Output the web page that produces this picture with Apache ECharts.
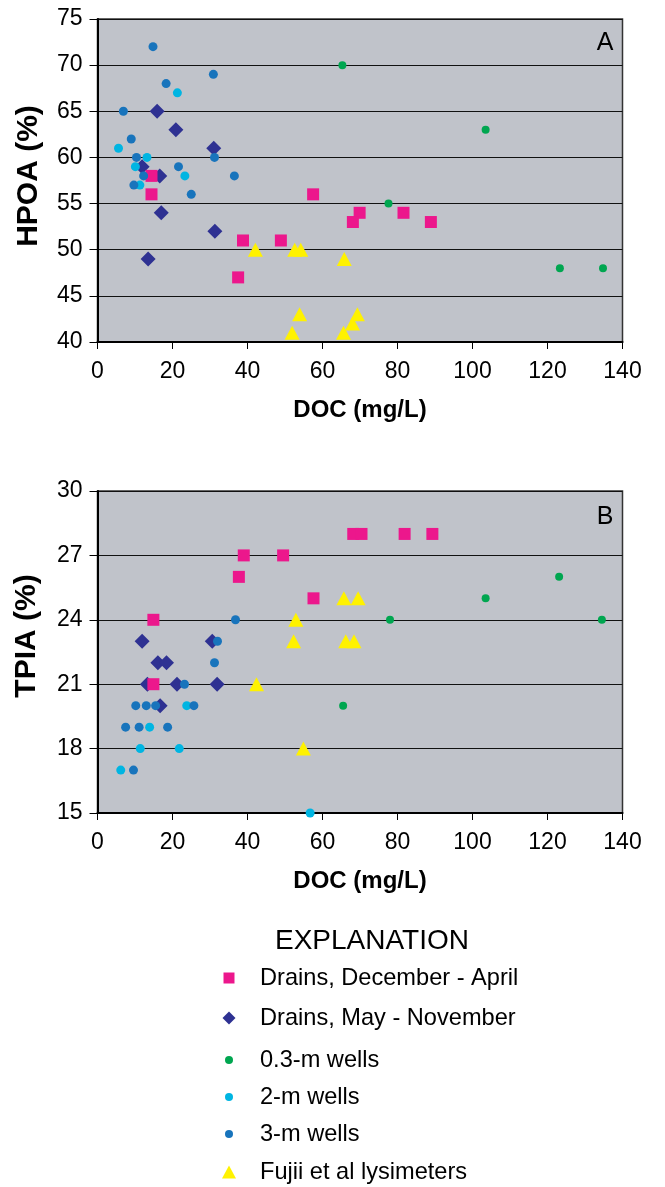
<!DOCTYPE html>
<html>
<head>
<meta charset="utf-8">
<script src="https://cdn.jsdelivr.net/npm/echarts@6/dist/echarts.min.js"></script>
<style>
html,body{margin:0;padding:0;background:#fff;}
#chart{width:665px;height:1187px;}
</style>
</head>
<body>
<div id="chart"></div>
<script>
// ---------- Data ----------
const xTicks = [0, 20, 40, 60, 80, 100, 120, 140];
const hpoaTicks = [40, 45, 50, 55, 60, 65, 70, 75];
const tpiaTicks = [15, 18, 21, 24, 27, 30];

const seriesNames = ['Drains, December - April', 'Drains, May - November', '0.3-m wells', '2-m wells', '3-m wells', 'Fujii et al lysimeters'];

// Panel A: DOC (mg/L) vs HPOA (%)
const decAprDocA  = [14.4, 14.4, 38.8, 48.9, 37.5, 57.5, 69.9, 68.1, 81.6, 88.9];
const decAprHpoa  = [58, 56, 51, 51, 47, 56, 54, 53, 54, 53];
const mayNovDocA  = [15.9, 20.9, 31.0, 11.9, 16.6, 17.0, 31.3, 13.5];
const mayNovHpoa  = [65, 63, 61, 59, 58, 54, 52, 49];
const w03DocA     = [65.3, 77.6, 103.5, 123.3, 134.8];
const w03Hpoa     = [70, 55, 63, 48, 48];
const w2DocA      = [21.3, 5.6, 13.2, 10.1, 23.3, 11.3];
const w2Hpoa      = [67, 61, 60, 59, 58, 57];
const w3DocA      = [14.8, 18.3, 30.9, 6.9, 9.0, 10.4, 31.2, 21.6, 12.3, 36.5, 9.7, 25.0];
const w3Hpoa      = [72, 68, 69, 65, 62, 60, 60, 59, 58, 58, 57, 56];
const fujiiDocA   = [42.1, 52.6, 54.2, 65.8, 53.9, 51.9, 69.3, 68.0, 65.6];
const fujiiHpoa   = [50, 50, 50, 49, 43, 41, 43, 42, 41];

// Panel B: DOC (mg/L) vs TPIA (%)
const decAprDocB  = [39.0, 49.5, 37.7, 14.9, 14.9, 68.2, 70.4, 81.9, 89.3, 57.6];
const decAprTpia  = [27, 27, 26, 24, 21, 28, 28, 28, 28, 25];
const mayNovDocB  = [11.9, 30.6, 16.1, 18.4, 13.3, 21.2, 31.9, 16.7];
const mayNovTpia  = [23, 23, 22, 22, 21, 21, 21, 20];
const w03DocB     = [78.0, 65.5, 103.5, 123.1, 134.5];
const w03Tpia     = [24, 20, 25, 26, 24];
const w2DocB      = [56.7, 6.2, 11.4, 21.8, 13.9, 23.8];
const w2Tpia      = [15, 17, 18, 18, 19, 20];
const w3DocB      = [9.6, 7.5, 11.1, 18.7, 10.2, 13.0, 15.5, 25.7, 23.2, 31.2, 32.0, 36.8];
const w3Tpia      = [17, 19, 19, 19, 20, 20, 20, 20, 21, 22, 23, 24];
const fujiiDocB   = [65.7, 69.5, 52.9, 52.3, 66.2, 68.4, 42.4, 54.9];
const fujiiTpia   = [25, 25, 24, 23, 23, 23, 21, 18];

// ---------- Styles ----------
const FONT = 'Liberation Sans, Arial, sans-serif';
const styles = {
  'Drains, December - April': {symbol: 'rect', size: 12, color: '#ec178c', z: 3, legendIcon: 'rect', lw: 11, lh: 11},
  'Drains, May - November':   {symbol: 'diamond', size: 15, color: '#2e3192', z: 2, legendIcon: 'diamond', lw: 13, lh: 13},
  '0.3-m wells':              {symbol: 'circle', size: 8, color: '#00a650', z: 4, legendIcon: 'circle', lw: 8, lh: 8},
  '2-m wells':                {symbol: 'circle', size: 9, color: '#00b5e2', z: 4, legendIcon: 'circle', lw: 8, lh: 8},
  '3-m wells':                {symbol: 'circle', size: 9, color: '#1874bc', z: 5, legendIcon: 'circle', lw: 8, lh: 8},
  'Fujii et al lysimeters':   {symbol: 'triangle', size: [15, 14], color: '#fff200', z: 6, legendIcon: 'triangle', lw: 14, lh: 13}
};

function pairs(xs, ys) { return xs.map((x, i) => [x, ys[i]]); }

const panelA = [
  [decAprDocA, decAprHpoa], [mayNovDocA, mayNovHpoa], [w03DocA, w03Hpoa],
  [w2DocA, w2Hpoa], [w3DocA, w3Hpoa], [fujiiDocA, fujiiHpoa]
];
const panelB = [
  [decAprDocB, decAprTpia], [mayNovDocB, mayNovTpia], [w03DocB, w03Tpia],
  [w2DocB, w2Tpia], [w3DocB, w3Tpia], [fujiiDocB, fujiiTpia]
];

const series = [];
[panelA, panelB].forEach((panel, gi) => {
  panel.forEach((d, si) => {
    const name = seriesNames[si];
    const st = styles[name];
    series.push({
      name: name,
      type: 'scatter',
      xAxisIndex: gi,
      yAxisIndex: gi,
      symbol: st.symbol,
      symbolSize: st.size,
      z: st.z,
      clip: false,
      itemStyle: {color: st.color, opacity: 1},
      emphasis: {disabled: true},
      data: pairs(d[0], d[1])
    });
  });
});

function xAxisCfg(gi) {
  return {
    type: 'value', gridIndex: gi, min: xTicks[0], max: xTicks[xTicks.length - 1], interval: 20,
    name: 'DOC (mg/L)', nameLocation: 'middle', nameGap: 56,
    nameTextStyle: {fontFamily: FONT, fontSize: 24, fontWeight: 'bold', color: '#000'},
    axisLine: {show: true, onZero: false, lineStyle: {color: '#000', width: 2}},
    axisTick: {show: true, length: 7, lineStyle: {color: '#000', width: 1}},
    axisLabel: {fontFamily: FONT, fontSize: 23, color: '#000', margin: 18},
    splitLine: {show: false}
  };
}
function yAxisCfg(gi, ticks) {
  return {
    type: 'value', gridIndex: gi, min: ticks[0], max: ticks[ticks.length - 1],
    interval: ticks[1] - ticks[0],
    axisLine: {show: true, onZero: false, lineStyle: {color: '#000', width: 2}},
    axisTick: {show: true, length: 8, lineStyle: {color: '#000', width: 1}},
    axisLabel: {fontFamily: FONT, fontSize: 23, color: '#000', margin: 15},
    splitLine: {show: true, lineStyle: {color: '#111', width: 1}}
  };
}

const legendRowY = [978, 1018, 1060, 1097, 1134, 1172];
const legends = seriesNames.map((name, i) => {
  const st = styles[name];
  return {
    show: true,
    selectedMode: false,
    orient: 'vertical',
    padding: 0,
    left: 229 - st.lw / 2,
    top: legendRowY[i] - 13,
    itemWidth: st.lw,
    itemHeight: st.lh,
    data: [{name: name, icon: st.legendIcon}],
    textStyle: {fontFamily: FONT, fontSize: 23.6, lineHeight: 26, color: '#000',
                padding: [0, 0, 0, 26 - st.lw / 2]}
  };
});

const option = {
  animation: false,
  backgroundColor: '#fff',
  grid: [
    {left: 97.5, right: 42.5, top: 19, height: 323, show: true, backgroundColor: '#c0c3ca', borderColor: '#333', borderWidth: 1.5},
    {left: 97.5, right: 42.5, top: 491, height: 322, show: true, backgroundColor: '#c0c3ca', borderColor: '#333', borderWidth: 1.5}
  ],
  xAxis: [xAxisCfg(0), xAxisCfg(1)],
  yAxis: [yAxisCfg(0, hpoaTicks), yAxisCfg(1, tpiaTicks)],
  legend: legends,
  graphic: [
    {type: 'text', x: 29, y: 176, rotation: Math.PI / 2,
     style: {text: 'HPOA (%)', font: 'bold 30px ' + FONT, fill: '#000', textAlign: 'center', textVerticalAlign: 'middle'}},
    {type: 'text', x: 27, y: 636, rotation: Math.PI / 2,
     style: {text: 'TPIA (%)', font: 'bold 30px ' + FONT, fill: '#000', textAlign: 'center', textVerticalAlign: 'middle'}},
    {type: 'text', x: 605, y: 43, z: 10,
     style: {text: 'A', font: '25px ' + FONT, fill: '#000', textAlign: 'center', textVerticalAlign: 'middle'}},
    {type: 'text', x: 605, y: 517, z: 10,
     style: {text: 'B', font: '25px ' + FONT, fill: '#000', textAlign: 'center', textVerticalAlign: 'middle'}},
    {type: 'text', x: 372, y: 941,
     style: {text: 'EXPLANATION', font: '28px ' + FONT, fill: '#000', textAlign: 'center', textVerticalAlign: 'middle'}}
  ],
  series: series
};

const chart = echarts.init(document.getElementById('chart'), null, {renderer: 'canvas'});
chart.setOption(option);
</script>
</body>
</html>
